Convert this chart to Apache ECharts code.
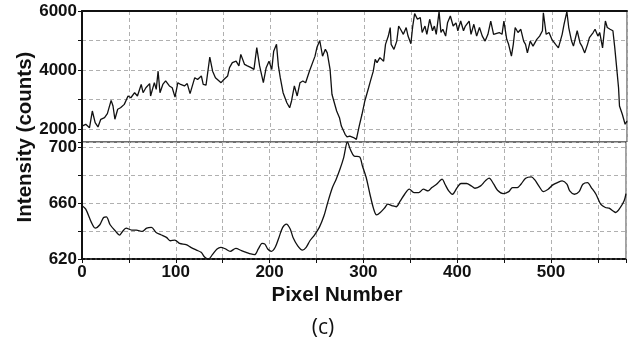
<!DOCTYPE html>
<html><head><meta charset="utf-8">
<script src="https://cdn.jsdelivr.net/npm/echarts@6/dist/echarts.min.js"></script>
<style>html,body{margin:0;padding:0;background:#fff}#c{width:629px;height:342px}</style>
</head><body><div id="c"></div>
<script>
// Upper panel: raw intensity (counts)
const topX=[0,4,8,11,14,17,20,24,27,31,33,35,38,41,45,49,52,56,59,63,65,68,72,73,77,79,81,83,86,89,93,96,99,102,105,109,112,115,120,123,127,129,132,136,139,142,144,148,151,155,157,160,164,167,169,173,176,180,183,186,
189,193,196,199,202,204,207,209,211,214,218,221,223,226,229,232,235,238,242,244,248,250,253,256,259,261,264,266,268,271,274,276,280,282,285,289,292,295,298,301,305,307,310,312,314,317,321,323,326,328,329,332,335,337,339,342,345,347,350,352,354,357,360,362,365,367,370,373,375,377,380,
382,384,387,389,392,395,398,400,403,406,408,412,414,417,420,423,426,429,432,435,438,440,444,447,449,452,454,457,459,461,464,467,470,472,474,477,480,484,487,490,491,494,497,500,504,507,511,513,516,518,521,523,527,530,532,535,538,540,544,546,549,551,554,557,559,562,565,567,569,571,572,575,578,580];
const topY=[2100,2160,2045,2610,2215,2070,2330,2385,2520,2970,2780,2330,2670,2720,2835,3120,3060,3230,3120,3510,3230,3400,3540,3120,3570,3345,3960,3230,3510,3630,3460,3400,3080,3570,3510,3460,3540,3200,3740,3680,3800,3510,3490,4440,3960,3740,3800,3570,3680,3800,4080,4250,4300,4140,4530,4190,4140,4080,4020,4760,
4140,3570,4080,4300,4020,4640,4870,4140,3740,3230,2890,2720,2950,3460,3120,3570,3630,3570,3960,3900,4470,4760,5000,4470,4700,4580,4020,3180,2950,2610,2385,2100,1820,1730,1760,1710,1650,2100,2500,2950,3400,3630,3960,4360,4250,4420,4300,4870,5150,5440,4870,4700,4980,5490,5380,5210,5440,5150,4890,5490,5910,5720,5780,5270,5490,5210,5720,5330,5490,5210,5980,
5270,5380,5150,5600,5830,5490,5600,5330,5660,5330,5490,5660,5210,5550,5150,5440,5150,4980,5210,5660,5210,5150,5270,5210,5660,5040,4870,4470,4870,5440,5270,5380,4980,4870,4580,4980,4810,5040,5150,5330,5940,5210,5270,5040,4870,4750,5210,5550,5980,5440,4980,4810,5330,4920,4810,4580,4870,5100,5270,5380,5150,5270,4750,5660,5440,5380,5330,4750,4080,3400,2780,2500,2160,2270];
// Lower panel: smoothed intensity
const botX=[0,4,10,14,19,23,26,30,36,40,43,47,53,58,64,69,74,79,84,90,94,99,104,111,116,122,127,131,135,139,144,148,153,158,164,170,175,180,184,188,192,195,198,202,206,210,214,218,222,225,230,235,239,243,248,253,258,262,267,271,275,279,283,286,290,296,299,303,307,311,314,318,323,326,331,335,339,344,349,354,359,364,369,373,378,384,387,391,395,400,404,410,415,419,425,430,434,439,443,449,455,459,464,468,473,479,483,487,492,497,502,507,512,517,520,525,530,534,539,543,548,553,558,562,567,569,574,578,580];
const botY=[658.2,655.8,646.3,642.2,644.6,649.8,650.3,644.6,639.8,637.2,639.6,642.2,640.8,640.8,639.8,642.2,642.7,639.1,637.4,635.5,633.1,633.6,631.2,630.3,628.4,626.4,624.8,621.2,620,623.1,627.2,628.4,627.2,625.5,627.6,626.0,624.8,623.6,623.1,627.2,631.2,630.7,627.2,625.5,628.4,635.5,642.7,645.1,641.5,635.5,629.5,626.4,628.4,633.1,637.4,642.7,651.0,660.6,671.3,677.3,684.4,692.8,704,698.8,694.0,693.3,686.8,678.5,666.5,655.8,651.7,653.4,657.0,659.4,658.2,657.5,661.3,666.5,670.1,667.7,667.7,670.1,668.9,671.3,673.7,677.3,673.7,668.9,666.5,671.3,674.2,674.2,672.5,670.8,672.5,676.1,678.0,673.7,669.4,667.0,668.4,671.3,671.3,673.7,678.0,679.0,676.6,672.5,668.4,670.1,673.2,674.9,676.1,673.7,668.9,666.5,668.4,673.7,674.9,671.3,666.5,659.4,657.0,656.5,654.1,653.4,657.0,661.8,667.0];
const xTickLabels=[0,100,200,300,400,500];
const topTickLabels=[2000,4000,6000];
const botTickLabels=[620,660,700];
const xTitle='Pixel Number';
const yTitle='Intensity (counts)';
const caption='(c)';

const F='"Liberation Sans", Arial, sans-serif';
const chart=echarts.init(document.getElementById('c'));
const gridLine={show:true,lineStyle:{color:'#b0b0b0',type:[4,3],width:1}};
const tickLbl=(list)=>({margin:5,color:'#111',fontFamily:F,fontWeight:'bold',fontSize:17,formatter:v=>list.includes(v)?String(v):''});
chart.setOption({
  animation:false,
  backgroundColor:'#fff',
  grid:[
    {left:82,right:2,top:11,height:131,show:true,borderColor:'#333',borderWidth:1},
    {left:82,right:2,top:142,height:117,show:true,borderColor:'#444',borderWidth:1}
  ],
  xAxis:[
    {gridIndex:0,type:'value',min:0,max:580,interval:50,position:'top',
     axisLine:{show:true,lineStyle:{color:'#111',width:2}},axisTick:{show:false},axisLabel:{show:false},splitLine:gridLine},
    {gridIndex:1,type:'value',min:0,max:580,interval:50,position:'bottom',
     axisLine:{show:true,lineStyle:{color:'#111',width:2,type:[3,2]}},
     axisTick:{show:true,length:4,lineStyle:{color:'#111'}},
     axisLabel:Object.assign(tickLbl(xTickLabels),{margin:5}),splitLine:gridLine}
  ],
  yAxis:[
    {gridIndex:0,type:'value',min:1560,max:6000,splitNumber:5,
     axisLine:{show:true,lineStyle:{color:'#111',width:2}},
     axisTick:{show:true,length:4,lineStyle:{color:'#111'}},
     axisLabel:tickLbl(topTickLabels),splitLine:gridLine},
    {gridIndex:1,type:'value',min:620,max:704,interval:20,
     axisLine:{show:true,lineStyle:{color:'#111',width:2}},
     axisTick:{show:true,length:4,lineStyle:{color:'#111'}},
     axisLabel:tickLbl(botTickLabels),splitLine:gridLine}
  ],
  series:[
    {type:'line',xAxisIndex:0,yAxisIndex:0,data:topX.map((x,i)=>[x,topY[i]]),symbol:'none',
     lineStyle:{color:'#111',width:1.3}},
    {type:'line',xAxisIndex:1,yAxisIndex:1,data:botX.map((x,i)=>[x,botY[i]]),symbol:'none',smooth:0.3,
     lineStyle:{color:'#111',width:1.3}}
  ],
  graphic:[
    {type:'text',x:25,y:137,rotation:Math.PI/2,style:{text:yTitle,align:'center',verticalAlign:'middle',fill:'#111',font:'bold 20.5px "Liberation Sans", Arial, sans-serif'}},
    {type:'text',x:337,y:295,style:{text:xTitle,align:'center',verticalAlign:'middle',fill:'#111',font:'bold 20.5px "Liberation Sans", Arial, sans-serif'}},
    {type:'text',x:323,y:328,style:{text:caption,align:'center',verticalAlign:'middle',fill:'#111',font:'21px "Open Sans", sans-serif'}}
  ]
});
</script></body></html>
